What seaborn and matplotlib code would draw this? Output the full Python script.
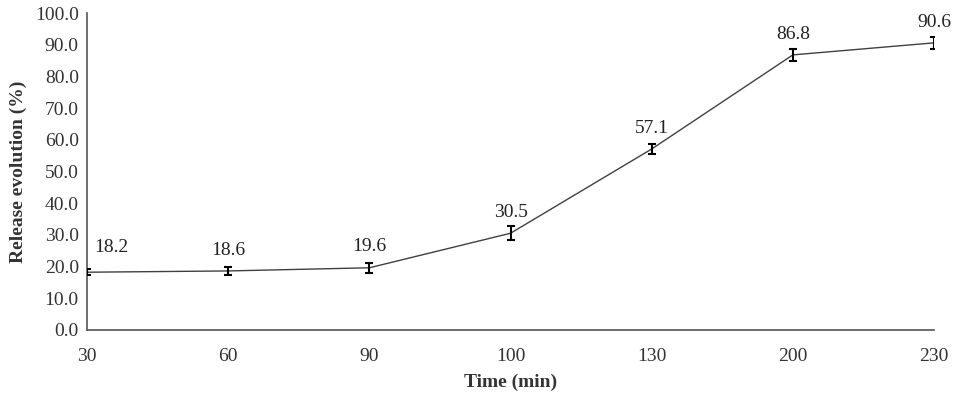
import numpy as np
import pandas as pd
import matplotlib
matplotlib.use("Agg")
import matplotlib.pyplot as plt
import seaborn as sns

times = ["30", "60", "90", "100", "130", "200", "230"]
release = [18.2, 18.6, 19.6, 30.5, 57.1, 86.8, 90.6]
errors = [1.0, 1.3, 1.5, 2.2, 1.6, 1.9, 1.9]

sns.set_style("white")
plt.rcParams["font.family"] = ["Liberation Serif", "DejaVu Serif"]

df = pd.DataFrame({"Time": times, "Release": release})

fig, ax = plt.subplots(figsize=(9.57, 3.96), dpi=100)
sns.lineplot(data=df, x="Time", y="Release", sort=False, color="#404040",
             linewidth=1.0, ax=ax)
xpos = np.arange(len(times))
ax.errorbar(xpos, release, yerr=errors, fmt="none", ecolor="black",
            elinewidth=1.5, capsize=3, capthick=1.5, zorder=3)

for i, v in enumerate(release):
    if i == 0:
        ax.annotate(f"{v:.1f}", (xpos[i], v), xytext=(5, 18),
                    textcoords="offset points", ha="left", va="center",
                    fontsize=14, color="#222222")
    else:
        ax.annotate(f"{v:.1f}", (xpos[i], v), xytext=(0, 15),
                    textcoords="offset points", ha="center", va="center",
                    fontsize=14, color="#222222")

ax.set_xlim(0, len(times) - 1)
ax.set_ylim(0, 100)
ax.set_yticks(np.arange(0, 101, 10))
ax.set_yticklabels([f"{t:.1f}" for t in np.arange(0, 101, 10)])
ax.set_xticks(xpos)
ax.set_xticklabels(times)
ax.tick_params(axis="x", direction="in", length=5, width=1, color="#555555",
               labelsize=14, pad=13, labelcolor="#333333")
ax.tick_params(axis="y", length=0, labelsize=14, pad=6, labelcolor="#333333")

for side in ["top", "right"]:
    ax.spines[side].set_visible(False)
for side in ["left", "bottom"]:
    ax.spines[side].set_color("#555555")
    ax.spines[side].set_linewidth(1.2)

ax.set_xlabel("Time (min)", fontsize=14, fontweight="bold", color="#333333", labelpad=6)
ax.set_ylabel("Release evolution (%)", fontsize=14, fontweight="bold", color="#333333",
              labelpad=6)

fig.subplots_adjust(left=0.091, right=0.976, top=0.967, bottom=0.167)
fig.savefig("out.png", dpi=100)
